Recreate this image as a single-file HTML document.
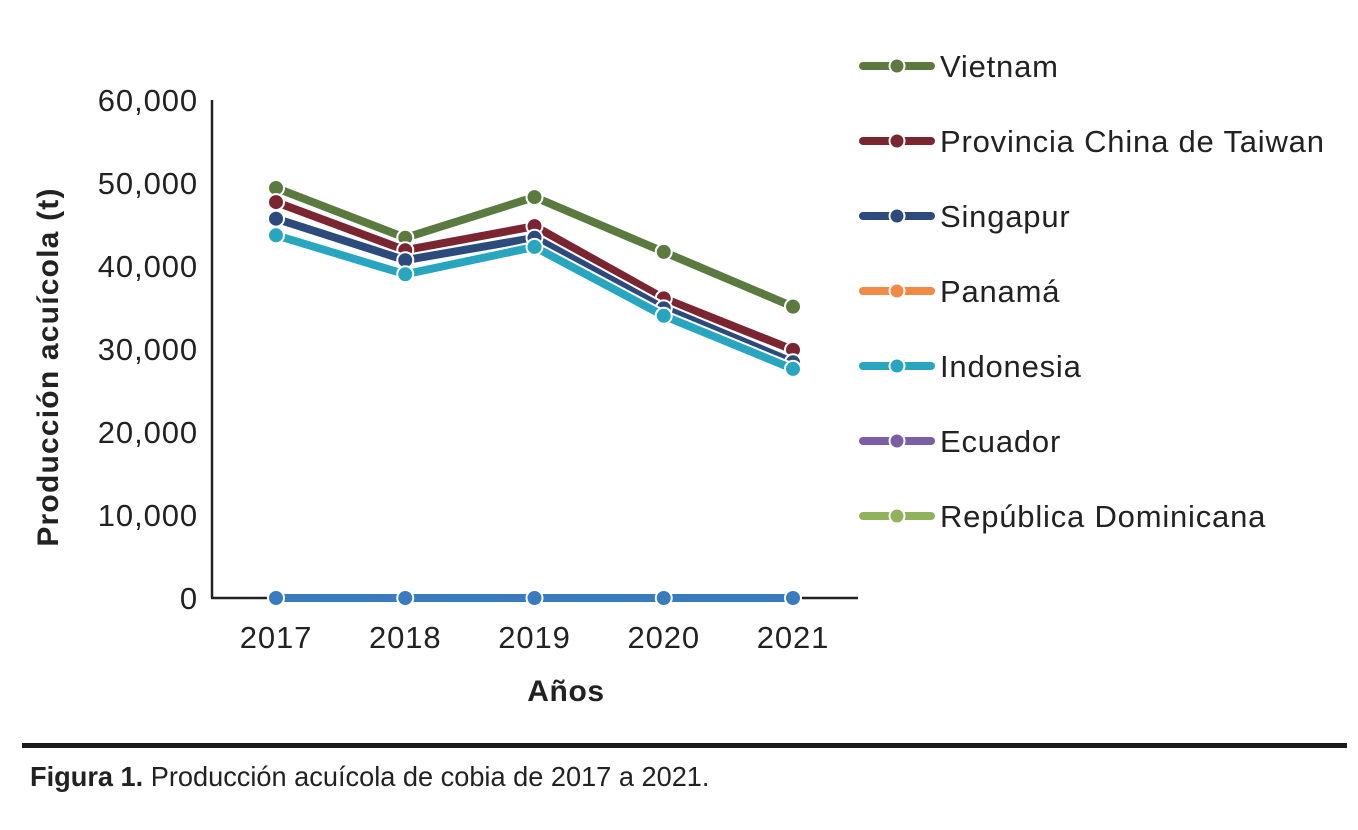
<!DOCTYPE html>
<html><head><meta charset="utf-8"><style>
body{margin:0;background:#fff;width:1358px;height:830px;overflow:hidden;font-family:"Liberation Sans",sans-serif}
#rule{position:absolute;left:22px;top:743px;width:1325px;height:5px;background:#1a1a1a}
#cap{position:absolute;left:30px;top:761px;font-size:28px;color:#222;transform:scaleX(0.97);transform-origin:left top;white-space:nowrap;font-family:"Liberation Sans Narrow","Liberation Sans",sans-serif}
</style></head><body>
<svg id="chart" width="1358" height="740" style="position:absolute;left:0;top:0" font-family="Liberation Sans, sans-serif"></svg>
<div id="rule"></div>
<div id="cap"><b>Figura 1.</b> Producción acuícola de cobia de 2017 a 2021.</div>
<script>
const years=["2017","2018","2019","2020","2021"];
const yTicks=[0,10000,20000,30000,40000,50000,60000];
const names=["Vietnam","Provincia China de Taiwan","Singapur","Panamá","Indonesia","Ecuador","República Dominicana"];
const colors=["#5a7a3f","#7b2530","#2c4a7c","#f08a45","#28a6c0","#7a5fa6","#8fb35a"];
const vietnam=[49400,43400,48300,41700,35100];
const taiwan=[47700,41900,44800,36100,29900];
const singapur=[45700,40700,43400,34900,28400];
const panama=[0,0,0,0,0];
const indonesia=[43700,39000,42300,34000,27600];
const ecuador=[0,0,0,0,0];
const dominicana=[0,0,0,0,0];
const series=[vietnam,taiwan,singapur,panama,indonesia,ecuador,dominicana];
const NS="http://www.w3.org/2000/svg",svg=document.getElementById('chart');
function mk(t,a,p){const e=document.createElementNS(NS,t);for(const k in a)e.setAttribute(k,a[k]);(p||svg).appendChild(e);return e;}
const x0=276,dx=129.25,yB=598,yT=100;
const X=i=>x0+i*dx, Y=v=>yB-(v/60000)*(yB-yT);
let a=mk('line',{x1:212,y1:yT,x2:212,y2:yB,stroke:'#222','stroke-width':2.5});


a=mk('line',{x1:211,y1:yB,x2:858,y2:yB,stroke:'#222','stroke-width':2.5});


yTicks.forEach(v=>{const t=mk('text',{x:198,y:Y(v)+11,'text-anchor':'end','font-size':31,'letter-spacing':0.9,fill:'#222'});t.textContent=v.toLocaleString('en-US');

});
years.forEach((y,i)=>{const t=mk('text',{x:X(i),y:648,'text-anchor':'middle','font-size':31,'letter-spacing':0.9,fill:'#222'});t.textContent=y;

});
let t=mk('text',{x:566,y:701,'text-anchor':'middle','font-size':30,'letter-spacing':0.6,'font-weight':'bold',fill:'#222'});t.textContent='Años';


t=mk('text',{x:58,y:367,'text-anchor':'middle','font-size':30,'letter-spacing':1.2,'font-weight':'bold',fill:'#222',transform:'rotate(-90 58 367)'});t.textContent='Producción acuícola (t)';


function drawSeries(vals,col,name){const g=mk('g',{});


mk('polyline',{points:vals.map((v,i)=>X(i)+','+Y(v)).join(' '),fill:'none',stroke:'#fff','stroke-width':12,'stroke-linejoin':'round'},g);
mk('polyline',{points:vals.map((v,i)=>X(i)+','+Y(v)).join(' '),fill:'none',stroke:col,'stroke-width':8,'stroke-linejoin':'round'},g);
vals.forEach((v,i)=>{const c=mk('circle',{cx:X(i),cy:Y(v),r:8,fill:col,stroke:'#fff','stroke-width':2},g);

});}
const order=[6,5,3,0,1,2,4];
order.forEach(k=>drawSeries(series[k],colors[k],names[k]));
drawSeries([0,0,0,0,0],'#3a7abf','zero-baseline');
names.forEach((n,k)=>{const g=mk('g',{});


const y=66+k*75;
mk('line',{x1:863,y1:y,x2:931,y2:y,stroke:colors[k],'stroke-width':8,'stroke-linecap':'round'},g);
mk('circle',{cx:897,cy:y,r:7.5,fill:colors[k],stroke:'#fff','stroke-width':2},g);
const tt=mk('text',{x:940,y:y+11,'font-size':31,'letter-spacing':0.8,fill:'#222'},g);tt.textContent=n;});
</script>
</body></html>
